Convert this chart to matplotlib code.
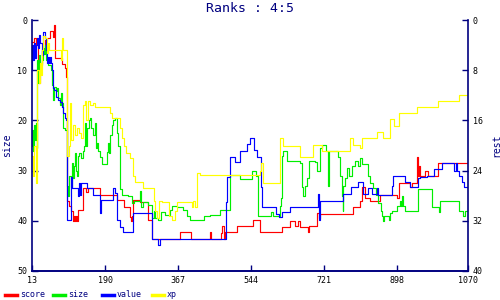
import matplotlib
matplotlib.use("Agg")
import matplotlib.pyplot as plt
from matplotlib.lines import Line2D

# x positions / rank values (left "size" scale, 0 at top)
score_x = [13, 18, 23, 28, 30, 33, 37, 45, 50, 57, 64, 67, 69, 83, 86, 93, 96, 98, 103, 108,
           112, 113, 115, 117, 119, 121, 124, 137, 144, 149, 178, 219, 236, 251, 253, 255, 258,
           275, 294, 304, 372, 399, 444, 447, 469, 471, 474, 479, 481, 510, 549, 566, 619, 638,
           650, 658, 663, 682, 685, 704, 708, 711, 791, 808, 813, 820, 832, 856, 898, 903, 929,
           934, 946, 948, 950, 953, 966, 973, 997, 1070]
score_y = [4.4, 3.6, 5, 9, 12.5, 9, 6, 4, 3.5, 2.2, 3.4, 1.0, 7.6, 7.6, 8.8, 9.6, 11.4, 36, 37, 38,
           39.3, 40, 39, 40, 39, 40, 37.9, 33.5, 34.2, 33.5, 34.9, 35.9, 37.3, 39.2, 40, 39, 35.9,
           36.3, 39.9, 43.7, 42.3, 43.7, 42.3, 43.7, 43.7, 42.5, 41.1, 43.7, 42.3, 41.1, 39.9, 42.3,
           41.3, 40.1, 41.1, 40.1, 41.3, 42.3, 41.1, 38.5, 39.5, 38.7, 37.3, 36.1, 33.3, 35.5, 36.1,
           34.9, 35.5, 32.5, 33.3, 32.5, 27.3, 31, 29, 31.1, 30, 31.1, 28.5, 28.5]

size_x = [13, 14, 16, 18, 20, 22, 25, 26, 28, 30, 33, 37, 40, 43, 45, 48, 52, 59, 62, 64, 66, 71,
          74, 76, 81, 84, 86, 88, 93, 96, 98, 100, 103, 107, 110, 112, 115, 117, 120, 122, 124,
          127, 132, 137, 139, 141, 144, 146, 151, 154, 156, 161, 166, 168, 171, 173, 178, 183,
          190, 195, 197, 200, 202, 207, 209, 214, 219, 221, 226, 231, 246, 256, 261, 275, 277,
          282, 294, 304, 309, 311, 318, 326, 335, 348, 353, 365, 380, 389, 396, 425, 430, 444,
          469, 493, 517, 546, 556, 561, 590, 592, 597, 609, 614, 617, 619, 621, 630, 663, 667,
          670, 675, 680, 684, 699, 704, 711, 716, 726, 731, 734, 755, 760, 764, 766, 768, 772,
          777, 782, 789, 796, 803, 808, 813, 828, 832, 840, 847, 852, 858, 861, 864, 866, 878,
          881, 886, 898, 905, 907, 910, 912, 917, 948, 978, 983, 997, 1000, 1002, 1046, 1048,
          1058, 1062, 1070]
size_y = [25, 22, 26, 21, 24, 20.5, 25.5, 8, 12.5, 7, 8.5, 8, 5.5, 6.8, 5, 8, 9, 10, 13, 16, 13.4,
          14.2, 13.5, 15.6, 17, 14.5, 16.5, 21.6, 21.9, 22, 33, 35, 31, 33.3, 28.5, 31.5, 29,
          26.5, 30, 31, 27, 26.5, 27.5, 26, 25, 20.5, 25, 21.5, 20, 19.6, 21.5, 23, 20.5, 25.5,
          24.5, 26, 27.3, 28.7, 28.7, 26.3, 24.5, 26.5, 23, 21, 20, 19.6, 22.5, 25, 33.7, 34.9,
          35.1, 36.5, 36.1, 34, 37.3, 36.3, 36.9, 39.5, 38, 39.5, 39.9, 38.3, 38.9, 37.9, 37.1,
          37.3, 37.9, 39, 39.9, 39.9, 39, 38.9, 37.9, 30.9, 31.7, 30, 31, 39.1, 39.1, 38.3, 39.1,
          39.1, 37, 35.5, 27, 26, 28, 28.5, 33.3, 35, 33, 31.5, 28, 28.3, 30, 25.5, 24.9, 26.1,
          33, 26.1, 27.3, 31, 35, 38, 33, 31.5, 29.5, 31, 29, 28, 29, 27.5, 28.7, 31, 32.5, 33.5,
          34.8, 36.5, 38, 39.1, 40.1, 39.1, 39.9, 38.5, 38.1, 37.1, 36.1, 37.1, 35.1, 37.1, 38.1,
          33.7, 33.7, 37.3, 37.3, 38.3, 36.1, 36.1, 38.1, 39.1, 38.1, 38.1]

value_x = [13, 14, 16, 18, 20, 23, 26, 28, 30, 33, 37, 40, 44, 47, 50, 52, 55, 57, 59, 61, 63, 67,
           72, 76, 80, 85, 88, 93, 96, 98, 105, 107, 109, 122, 124, 127, 129, 132, 146, 161, 178,
           179, 181, 207, 209, 214, 219, 226, 234, 258, 304, 318, 323, 481, 483, 486, 493, 505,
           517, 534, 541, 551, 558, 566, 568, 570, 602, 605, 612, 619, 638, 704, 706, 709, 711,
           764, 767, 784, 786, 801, 803, 813, 815, 828, 837, 849, 852, 881, 886, 888, 912, 917,
           929, 946, 948, 953, 966, 971, 985, 988, 1007, 1031, 1036, 1041, 1043, 1048, 1055,
           1060, 1070]
value_y = [10, 5, 8, 4.6, 7.5, 5, 3.6, 5.5, 3, 4.5, 7, 2.4, 3.5, 6, 8.5, 7.4, 8.6, 7.4, 8.6, 10,
           13.5, 14, 15.4, 16, 16.4, 17.4, 18.6, 19.6, 20, 39.9, 39.9, 31.3, 33.5, 33.5, 35, 32.5,
           34.9, 32.5, 33.5, 34.9, 34.9, 38.5, 35.9, 35.9, 33.5, 34.5, 39.9, 41.3, 42.3, 38.5,
           43.7, 44.9, 43.7, 43.7, 36.3, 31.3, 27.3, 28.3, 26.1, 24.7, 23.5, 25.9, 27.3, 27.3,
           33.3, 37.3, 37.3, 38.7, 39.3, 38.3, 37.3, 37.3, 34.7, 39.9, 36.1, 36.1, 34.7, 34.7,
           33.3, 33.3, 32.3, 32.3, 34.7, 33.5, 34.7, 33.5, 34.9, 34.9, 33, 31.1, 31.1, 32.3, 33.3,
           33.3, 31.5, 31.3, 31.3, 31.1, 31.1, 29.7, 28.5, 28.5, 30.1, 28.5, 30.1, 31.1, 32.3,
           33.3, 33.3]

xp_x = [13, 16, 19, 22, 24, 26, 29, 32, 35, 37, 40, 45, 49, 52, 55, 81, 83, 85, 87, 98, 103, 106,
        108, 112, 117, 122, 127, 132, 137, 141, 144, 149, 154, 161, 166, 178, 202, 207, 226, 231,
        236, 241, 251, 258, 263, 275, 282, 304, 308, 311, 316, 320, 328, 340, 345, 353, 360, 365,
        386, 400, 403, 408, 413, 420, 566, 568, 573, 614, 621, 663, 694, 716, 784, 791, 808, 813,
        849, 864, 881, 891, 903, 946, 997, 1048, 1070]
xp_y = [27, 31, 25, 32.5, 24, 10, 12.5, 8.5, 11, 6, 3.2, 3.6, 6.5, 4.5, 6, 6, 8, 3.6, 6, 27, 25,
        16.6, 24, 21, 23, 21.5, 22.5, 23.5, 17, 16.2, 20, 16.2, 17, 16.5, 17.4, 17.4, 18.5, 19.6,
        21.5, 23.5, 25, 26.5, 27.5, 31, 32.3, 32.3, 33.5, 33.5, 36, 38, 39.5, 36, 36.3, 36.3, 39,
        39.8, 38, 36.3, 36.3, 37.3, 36, 37.3, 30.5, 30.9, 30, 28.5, 32.4, 23.5, 25, 27.3, 24.9,
        26.1, 23.5, 24.9, 25.5, 23.5, 22.3, 23.5, 19.7, 21.1, 18.5, 17.4, 16.2, 15, 15]

series = [("score", score_x, score_y, "#ff0000"),
          ("size", size_x, size_y, "#00ee00"),
          ("value", value_x, value_y, "#0000ff"),
          ("xp", xp_x, xp_y, "#ffff00")]

x_ticks = [13, 190, 367, 544, 721, 898, 1070]
left_ticks = [0, 10, 20, 30, 40, 50]
right_ticks = [0, 8, 16, 24, 32, 40]

navy = "#000080"
mono = "DejaVu Sans Mono"

fig = plt.figure(figsize=(5, 3), dpi=100)
ax = fig.add_axes([0.064, 0.097, 0.872, 0.836])

for name, xs, ys, col in series:
    ax.plot(xs, ys, drawstyle="steps-post", color=col, lw=0.85)

ax.set_xlim(13, 1070)
ax.set_ylim(50, 0)
ax.set_xticks(x_ticks)
ax.set_yticks(left_ticks)

ax2 = ax.twinx()
ax2.set_ylim(40, 0)
ax2.set_yticks(right_ticks)

for a in (ax, ax2):
    a.spines["top"].set_visible(False)
    for s in ("left", "right", "bottom"):
        a.spines[s].set_color(navy)
        a.spines[s].set_linewidth(1.2)
    a.tick_params(direction="in", length=4, width=1, color=navy, labelsize=6)
    for lab in a.get_xticklabels() + a.get_yticklabels():
        lab.set_family(mono)
ax2.spines["left"].set_visible(False)
ax.spines["right"].set_visible(False)
ax.tick_params(axis="x", pad=4)

ax.set_ylabel("size", family=mono, fontsize=7, color=navy, labelpad=4)
ax2.set_ylabel("rest", family=mono, fontsize=7, color=navy, rotation=90, labelpad=6)

fig.text(0.5, 0.972, "Ranks : 4:5", ha="center", va="center", family=mono,
         fontsize=9.5, color=navy)

# legend along the bottom
leg_pos = [5, 53, 102, 152]
for (name, xs, ys, col), px in zip(series, leg_pos):
    fig.add_artist(Line2D([px / 500, (px + 12) / 500], [0.018, 0.018], color=col, lw=2.5))
    fig.text((px + 15) / 500, 0.018, name, family=mono, fontsize=6, color=navy,
             va="center", ha="left")

fig.savefig("out.png", dpi=100)
